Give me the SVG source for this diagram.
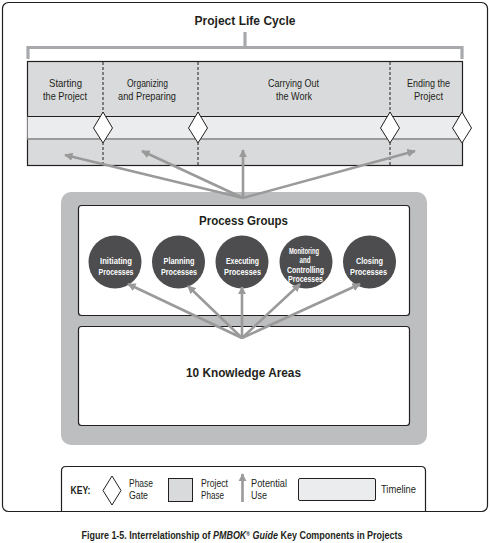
<svg xmlns="http://www.w3.org/2000/svg" width="490" height="543" viewBox="0 0 490 543">
<defs>
<marker id="ah" viewBox="0 0 10 10" refX="9" refY="5" markerWidth="3.2" markerHeight="3.2" orient="auto" markerUnits="strokeWidth">
<path d="M0,0 L10,5 L0,10 Z" fill="#9a9a9a"/>
</marker>
</defs>
<style>
text{font-family:"Liberation Sans Narrow","Liberation Sans",Arial,sans-serif;font-weight:bold;fill:#231f20;text-anchor:middle}
.ph{font-size:11px;font-weight:normal;fill:#231f20}
.pg{font-size:9px;fill:#fff}
.key{font-size:10.5px;font-weight:normal;text-anchor:start}
.keyl{font-size:10.5px;text-anchor:start}
.arr{stroke:#9a9a9a;stroke-width:2.6;fill:none;marker-end:url(#ah)}
.dash{stroke:#231f20;stroke-width:1;stroke-dasharray:3,2}
.dia{fill:#fff;stroke:#231f20;stroke-width:1}
</style>
<rect x="2.5" y="2.5" width="485" height="509" rx="6" fill="#fff" stroke="#231f20" stroke-width="1.2"/>
<g id="title"><text x="245" y="25" font-size="13.5" textLength="101" lengthAdjust="spacingAndGlyphs">Project Life Cycle</text></g>
<g id="bracket" fill="none" stroke="#a7a9ac" stroke-width="3.2">
<path d="M28,59 V47.5 H462 V59"/>
<path d="M245,32 V47.5"/>
</g>
<g id="phases">
<rect x="27.5" y="61.5" width="435" height="104" fill="#d9dadb" stroke="#231f20" stroke-width="1.2"/>
<rect x="27.5" y="116.5" width="435" height="22" fill="#ebeced" stroke="none"/>
<line x1="27.5" y1="116.5" x2="462.5" y2="116.5" stroke="#231f20" stroke-width="1"/>
<line x1="27.5" y1="139" x2="462.5" y2="139" stroke="#9a9a9a" stroke-width="2"/>
<line class="dash" x1="103" y1="62" x2="103" y2="165"/>
<line class="dash" x1="198" y1="62" x2="198" y2="165"/>
<line class="dash" x1="390" y1="62" x2="390" y2="165"/>
<text class="ph" x="65.5" y="87" textLength="33" lengthAdjust="spacingAndGlyphs">Starting</text>
<text class="ph" x="65" y="99.5" textLength="44" lengthAdjust="spacingAndGlyphs">the Project</text>
<text class="ph" x="147.5" y="87" textLength="41" lengthAdjust="spacingAndGlyphs">Organizing</text>
<text class="ph" x="147" y="99.5" textLength="58" lengthAdjust="spacingAndGlyphs">and Preparing</text>
<text class="ph" x="293.5" y="87" textLength="51" lengthAdjust="spacingAndGlyphs">Carrying Out</text>
<text class="ph" x="294" y="99.5" textLength="36" lengthAdjust="spacingAndGlyphs">the Work</text>
<text class="ph" x="428.5" y="87" textLength="43" lengthAdjust="spacingAndGlyphs">Ending the</text>
<text class="ph" x="428.5" y="99.5" textLength="29" lengthAdjust="spacingAndGlyphs">Project</text>
</g>
<g id="gates">
<path class="dia" d="M103,112 L112.5,128 L103,143 L93.5,128 Z"/>
<path class="dia" d="M198,112 L207.5,128 L198,143 L188.5,128 Z"/>
<path class="dia" d="M390,112 L399.5,128 L390,143 L380.5,128 Z"/>
<path class="dia" d="M462,112 L471.5,128 L462,143 L452.5,128 Z"/>
</g>
<g id="container"><rect x="61" y="192" width="366" height="253" rx="10" fill="#bcbec0"/></g>
<g id="process-groups">
<rect x="78.5" y="205.5" width="331" height="110" rx="3" fill="#fff" stroke="#231f20" stroke-width="1.2"/>
<text x="243.5" y="225" font-size="13" textLength="89" lengthAdjust="spacingAndGlyphs">Process Groups</text>
</g>
<g id="initiating"><circle cx="115" cy="262" r="26.5" fill="#4d4d4f"/><text class="pg" x="116" y="264" textLength="32" lengthAdjust="spacingAndGlyphs">Initiating</text><text class="pg" x="116" y="275" textLength="35" lengthAdjust="spacingAndGlyphs">Processes</text></g>
<g id="planning"><circle cx="178.5" cy="262" r="26.5" fill="#4d4d4f"/><text class="pg" x="179" y="264" textLength="31" lengthAdjust="spacingAndGlyphs">Planning</text><text class="pg" x="179" y="275" textLength="36" lengthAdjust="spacingAndGlyphs">Processes</text></g>
<g id="executing"><circle cx="242" cy="262" r="26.5" fill="#4d4d4f"/><text class="pg" x="242.5" y="264" textLength="33" lengthAdjust="spacingAndGlyphs">Executing</text><text class="pg" x="242.5" y="275" textLength="37" lengthAdjust="spacingAndGlyphs">Processes</text></g>
<g id="monitoring"><circle cx="306" cy="262" r="26.5" fill="#4d4d4f"/><text class="pg" x="304" y="253.5" textLength="30" lengthAdjust="spacingAndGlyphs">Monitoring</text><text class="pg" x="305" y="262.5" textLength="11" lengthAdjust="spacingAndGlyphs">and</text><text class="pg" x="305.5" y="273" textLength="37" lengthAdjust="spacingAndGlyphs">Controlling</text><text class="pg" x="305.5" y="282" textLength="35" lengthAdjust="spacingAndGlyphs">Processes</text></g>
<g id="closing"><circle cx="369.5" cy="262" r="26.5" fill="#4d4d4f"/><text class="pg" x="369.5" y="264" textLength="27" lengthAdjust="spacingAndGlyphs">Closing</text><text class="pg" x="368.5" y="275" textLength="37" lengthAdjust="spacingAndGlyphs">Processes</text></g>
<g id="knowledge-areas">
<rect x="78.5" y="326.5" width="331" height="99" rx="3" fill="#fff" stroke="#231f20" stroke-width="1.2"/>
<text x="243.5" y="377" font-size="13" textLength="115" lengthAdjust="spacingAndGlyphs">10 Knowledge Areas</text>
</g>
<g id="connectors">
<line class="arr" x1="243" y1="198" x2="65" y2="155"/>
<line class="arr" x1="243" y1="198" x2="142" y2="151"/>
<line class="arr" x1="243" y1="198" x2="243" y2="150"/>
<line class="arr" x1="243" y1="198" x2="415" y2="151"/>
<line class="arr" x1="242" y1="338" x2="128" y2="284"/>
<line class="arr" x1="242" y1="338" x2="188" y2="286"/>
<line class="arr" x1="242" y1="338" x2="242" y2="287"/>
<line class="arr" x1="242" y1="338" x2="300" y2="284"/>
<line class="arr" x1="242" y1="338" x2="360" y2="284"/>
</g>
<g id="key">
<path d="M61.5,511 V471 Q61.5,466.5 66,466.5 H421 Q425.5,466.5 425.5,471 V511" fill="#fff" stroke="#231f20" stroke-width="1.2"/>
<text class="keyl" x="70.5" y="494" textLength="20" lengthAdjust="spacingAndGlyphs">KEY:</text>
<path class="dia" d="M112,476 L121,490.5 L112,505 L103,490.5 Z"/>
<text class="key" x="129" y="486.5" textLength="24" lengthAdjust="spacingAndGlyphs">Phase</text>
<text class="key" x="129" y="498.5" textLength="19" lengthAdjust="spacingAndGlyphs">Gate</text>
<rect x="168.5" y="478.5" width="24" height="23" fill="#d9dadb" stroke="#231f20" stroke-width="1"/>
<text class="key" x="201" y="486.5" textLength="27" lengthAdjust="spacingAndGlyphs">Project</text>
<text class="key" x="201" y="498.5" textLength="23" lengthAdjust="spacingAndGlyphs">Phase</text>
<line class="arr" x1="242.5" y1="502" x2="242.5" y2="474"/>
<text class="key" x="251" y="486.5" textLength="36" lengthAdjust="spacingAndGlyphs">Potential</text>
<text class="key" x="251" y="498.5" textLength="16" lengthAdjust="spacingAndGlyphs">Use</text>
<rect x="298.5" y="478.5" width="77" height="22" rx="1.5" fill="#ebeced" stroke="#231f20" stroke-width="1"/>
<text class="key" x="381" y="493" textLength="35" lengthAdjust="spacingAndGlyphs">Timeline</text>
</g>
<g id="caption" transform="translate(242,539) scale(0.855,1)"><text x="0" y="0" font-size="10.5">Figure 1-5. Interrelationship of <tspan font-style="italic">PMBOK</tspan><tspan font-size="6" dy="-3">®</tspan><tspan dy="3" font-style="italic"> Guide</tspan> Key Components in Projects</text></g>
</svg>
